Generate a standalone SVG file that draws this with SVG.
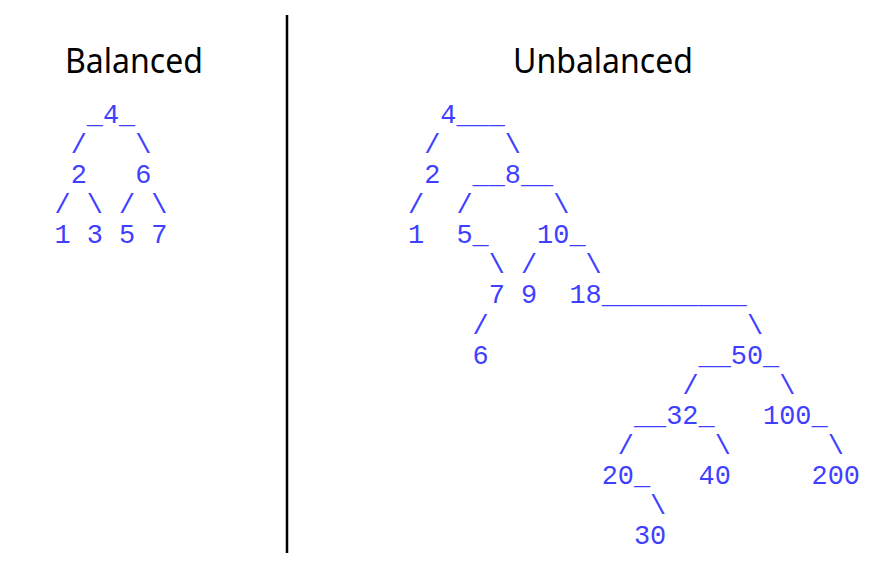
<svg xmlns="http://www.w3.org/2000/svg" width="895" height="588" viewBox="0 0 895 588">
<style>
.t{font-family:"Liberation Mono","Courier New",monospace;font-size:26.9px;fill:#3f3fff;white-space:pre}
.h{font-family:"Noto Sans","DejaVu Sans",sans-serif;font-size:34px;fill:#000}
</style>
<rect width="895" height="588" fill="#fff"/>
<text class="h" x="65" y="73" textLength="138" lengthAdjust="spacingAndGlyphs">Balanced</text>
<text class="h" x="513" y="73" textLength="180" lengthAdjust="spacingAndGlyphs">Unbalanced</text>
<line x1="287" y1="15" x2="287" y2="553" stroke="#000" stroke-width="2.5"/>

<g id="balanced">
<g id="b-4"><text class="t" x="102.92" y="122.8">4</text></g>
<g id="b-2"><text class="t" x="70.64" y="183">2</text></g>
<g id="b-6"><text class="t" x="135.2" y="183">6</text></g>
<g id="b-1"><text class="t" x="54.5" y="243.2">1</text></g>
<g id="b-3"><text class="t" x="86.78" y="243.2">3</text></g>
<g id="b-5"><text class="t" x="119.06" y="243.2">5</text></g>
<g id="b-7"><text class="t" x="151.34" y="243.2">7</text></g>
<g id="b-connectors">
<text class="t" x="86.78" y="122.8">_</text>
<text class="t" x="119.06" y="122.8">_</text>
<text class="t" x="70.64" y="152.9">/</text>
<text class="t" x="135.2" y="152.9">\</text>
<text class="t" x="54.5" y="213.1">/</text>
<text class="t" x="86.78" y="213.1">\</text>
<text class="t" x="119.06" y="213.1">/</text>
<text class="t" x="151.34" y="213.1">\</text>
</g>
</g>

<g id="unbalanced">
<g id="u-4"><text class="t" x="440.28" y="122.8">4</text></g>
<g id="u-2"><text class="t" x="424.14" y="183">2</text></g>
<g id="u-8"><text class="t" x="504.84" y="183">8</text></g>
<g id="u-1"><text class="t" x="408" y="243.2">1</text></g>
<g id="u-5"><text class="t" x="456.42" y="243.2">5</text></g>
<g id="u-10"><text class="t" x="537.12" y="243.2">10</text></g>
<g id="u-7"><text class="t" x="488.7" y="303.4">7</text></g>
<g id="u-9"><text class="t" x="520.98" y="303.4">9</text></g>
<g id="u-18"><text class="t" x="569.4" y="303.4">18</text></g>
<g id="u-6"><text class="t" x="472.56" y="363.6">6</text></g>
<g id="u-50"><text class="t" x="730.8" y="363.6">50</text></g>
<g id="u-32"><text class="t" x="666.24" y="423.8">32</text></g>
<g id="u-100"><text class="t" x="763.08" y="423.8">100</text></g>
<g id="u-20"><text class="t" x="601.68" y="484">20</text></g>
<g id="u-40"><text class="t" x="698.52" y="484">40</text></g>
<g id="u-200"><text class="t" x="811.5" y="484">200</text></g>
<g id="u-30"><text class="t" x="633.96" y="544.2">30</text></g>
<g id="u-connectors">
<text class="t" x="456.42" y="122.8">___</text>
<text class="t" x="424.14" y="152.9">/</text>
<text class="t" x="504.84" y="152.9">\</text>
<text class="t" x="472.56" y="183">__</text>
<text class="t" x="520.98" y="183">__</text>
<text class="t" x="408" y="213.1">/</text>
<text class="t" x="456.42" y="213.1">/</text>
<text class="t" x="553.26" y="213.1">\</text>
<text class="t" x="472.56" y="243.2">_</text>
<text class="t" x="569.4" y="243.2">_</text>
<text class="t" x="488.7" y="273.3">\</text>
<text class="t" x="520.98" y="273.3">/</text>
<text class="t" x="585.54" y="273.3">\</text>
<text class="t" x="601.68" y="303.4">_________</text>
<text class="t" x="472.56" y="333.5">/</text>
<text class="t" x="746.94" y="333.5">\</text>
<text class="t" x="698.52" y="363.6">__</text>
<text class="t" x="763.08" y="363.6">_</text>
<text class="t" x="682.38" y="393.7">/</text>
<text class="t" x="779.22" y="393.7">\</text>
<text class="t" x="633.96" y="423.8">__</text>
<text class="t" x="698.52" y="423.8">_</text>
<text class="t" x="811.5" y="423.8">_</text>
<text class="t" x="617.82" y="453.9">/</text>
<text class="t" x="714.66" y="453.9">\</text>
<text class="t" x="827.64" y="453.9">\</text>
<text class="t" x="633.96" y="484">_</text>
<text class="t" x="650.1" y="514.1">\</text>
</g>
</g>
</svg>
